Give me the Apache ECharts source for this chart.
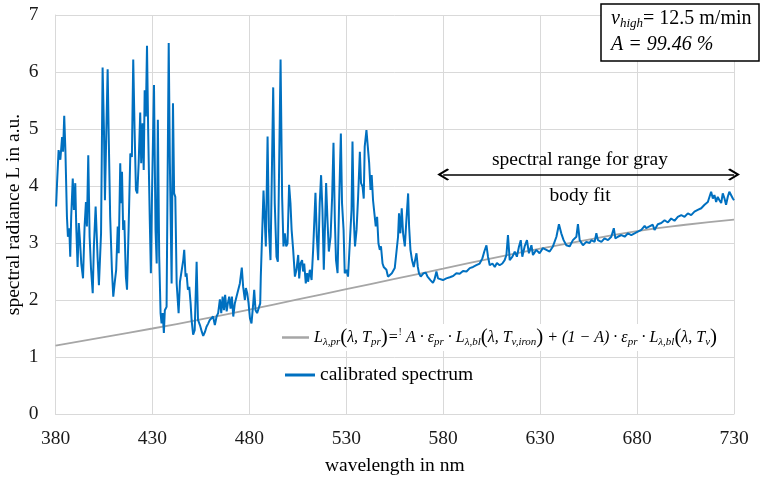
<!DOCTYPE html>
<html>
<head>
<meta charset="utf-8">
<script src="https://cdn.jsdelivr.net/npm/echarts@6/dist/echarts.min.js"></script>
<style>
  html, body { margin: 0; padding: 0; background: #fff; }
  #chart { width: 760px; height: 477px; }
</style>
</head>
<body>
<div id="chart"></div>
<script>
// Calibrated spectrum: wavelength (nm) and spectral radiance (a.u.)
const wavelength = [
  380.3, 380.8, 381.6, 382.5, 383.4, 383.9, 384.5, 385.1, 385.9, 386.4, 387.1, 387.6, 388.1, 388.9, 389.5, 390.2,
  390.7, 391.4, 392.0, 392.6, 393.3, 394.2, 395.0, 395.7, 396.2, 396.9, 397.6, 398.3, 399.2, 399.8, 400.7, 401.7,
  402.4, 403.5, 404.3, 405.0, 405.5, 406.2, 406.9, 407.4, 408.2, 409.1, 409.8, 410.5, 411.3, 412.1, 412.6, 413.4,
  413.8, 414.3, 414.9, 415.5, 416.3, 416.9, 417.7, 418.6, 419.4, 420.1, 420.8, 421.5, 422.2, 422.9, 423.7, 424.2,
  424.9, 425.5, 426.0, 426.6, 427.2, 427.8, 428.6, 429.2, 429.8, 430.8, 431.6, 432.2, 432.8, 433.5, 434.2, 434.7,
  435.3, 435.9, 436.4, 437.3, 438.4, 439.0, 439.9, 440.6, 441.2, 441.8, 442.5, 443.5, 444.2, 445.2, 445.9, 446.4,
  447.1, 447.6, 448.3, 449.0, 449.7, 450.2, 451.0, 451.8, 452.8, 453.5, 454.5, 455.5, 456.2, 457.1, 457.9, 458.8,
  459.6, 460.5, 461.3, 462.2, 463.1, 463.9, 464.8, 465.5, 466.2, 466.9, 467.5, 468.3, 468.9, 469.6, 470.3, 471.0,
  471.7, 472.5, 473.4, 474.2, 475.1, 476.1, 476.8, 477.7, 478.2, 478.9, 479.6, 480.3, 481.1, 482.0, 482.5, 483.2,
  484.0, 484.9, 485.6, 485.9, 486.6, 487.3, 488.0, 488.5, 489.4, 490.1, 490.9, 492.3, 493.1, 494.0, 494.7, 496.1,
  496.9, 497.6, 498.3, 499.0, 499.7, 500.5, 501.2, 501.8, 502.6, 503.5, 504.3, 505.2, 505.7, 506.4, 507.2, 507.7,
  508.3, 509.1, 509.8, 510.3, 511.2, 512.1, 512.9, 514.1, 514.8, 515.5, 516.3, 517.0, 517.7, 518.4, 519.1, 519.6,
  520.3, 521.0, 521.9, 522.7, 523.4, 524.1, 524.7, 525.5, 526.3, 527.2, 527.8, 528.6, 529.2, 530.1, 530.9, 531.8,
  532.7, 533.2, 533.9, 534.5, 535.3, 536.1, 537.0, 537.6, 538.4, 539.0, 539.5, 540.4, 541.1, 541.8, 542.5, 543.1,
  543.8, 544.5, 545.2, 545.9, 546.6, 547.3, 547.9, 548.7, 549.3, 550.0, 550.7, 551.5, 552.4, 553.5, 554.1, 555.0,
  555.9, 556.7, 557.2, 557.9, 558.6, 559.3, 560.2, 561.0, 561.9, 562.4, 563.1, 563.9, 564.8, 565.5, 566.2, 566.9,
  567.5, 568.4, 569.3, 569.9, 571.0, 571.9, 572.7, 573.4, 574.7, 575.5, 576.5, 577.3, 578.2, 579.9, 581.6, 583.4,
  585.1, 586.8, 588.5, 590.2, 592.0, 593.7, 595.4, 597.1, 598.8, 600.2, 601.2, 602.3, 603.1, 604.0, 605.4, 606.6,
  607.7, 609.1, 610.5, 611.7, 612.6, 613.4, 614.3, 615.7, 616.9, 618.0, 619.1, 620.0, 620.8, 622.0, 623.2, 624.2,
  625.5, 626.3, 628.0, 629.7, 631.4, 633.2, 634.9, 636.6, 638.4, 639.7, 640.9, 642.1, 643.5, 645.2, 646.9, 648.7,
  649.5, 650.4, 652.1, 653.8, 655.5, 656.4, 658.1, 659.0, 659.8, 661.6, 663.2, 665.0, 666.7, 668.0, 668.8, 670.1,
  671.9, 673.6, 675.3, 677.0, 678.7, 680.4, 682.2, 683.9, 684.7, 686.4, 688.1, 689.0, 690.7, 692.5, 694.2, 695.9,
  697.6, 699.3, 701.0, 702.8, 704.5, 706.2, 707.9, 709.6, 711.3, 713.1, 714.8, 716.5, 717.4, 718.2, 719.1, 719.9,
  720.8, 721.6, 722.5, 723.4, 724.2, 725.1, 725.9, 726.8, 727.6, 728.5, 729.4, 730.0
];
const radiance = [
  3.64, 4.05, 4.63, 4.46, 4.86, 4.60, 5.23, 4.63, 3.46, 3.11, 3.26, 2.76, 3.46, 4.13, 3.58, 4.05,
  3.29, 2.58, 3.35, 3.05, 2.64, 2.38, 3.29, 3.72, 3.29, 4.54, 3.11, 2.56, 2.12, 2.94, 3.64, 2.76,
  2.26, 3.17, 6.08, 4.98, 3.75, 4.92, 6.05, 4.98, 3.46, 2.53, 2.06, 2.29, 2.53, 3.29, 2.82, 4.40,
  3.70, 4.25, 3.23, 3.40, 2.41, 2.18, 3.23, 4.57, 4.51, 6.22, 4.98, 3.93, 3.87, 4.40, 5.29, 4.40,
  5.10, 4.28, 5.68, 5.22, 6.46, 4.98, 3.46, 2.47, 3.90, 5.77, 3.23, 2.64, 5.16, 2.76, 1.77, 1.59,
  1.77, 1.42, 1.82, 1.88, 6.51, 4.40, 2.29, 5.45, 3.87, 3.81, 2.29, 1.77, 2.32, 2.35, 2.70, 2.88,
  2.41, 2.47, 2.18, 2.23, 1.94, 1.65, 1.39, 1.47, 2.67, 1.65, 1.56, 1.44, 1.37, 1.44, 1.53, 1.59,
  1.65, 1.62, 1.71, 1.56, 1.71, 1.77, 2.01, 1.77, 2.06, 1.82, 2.09, 1.80, 1.94, 2.06, 1.85, 2.06,
  1.71, 1.94, 2.06, 2.06, 2.29, 2.57, 2.23, 2.00, 2.21, 2.12, 1.94, 1.68, 1.59, 1.94, 2.18, 1.82,
  1.77, 1.77, 1.94, 2.41, 2.44, 3.92, 3.35, 2.94, 4.87, 3.23, 2.70, 5.73, 3.70, 2.76, 2.67, 6.22,
  3.81, 2.94, 3.17, 2.94, 2.99, 4.02, 3.70, 3.23, 2.88, 2.41, 2.53, 2.79, 2.38, 2.64, 2.70, 2.50,
  2.64, 2.29, 2.47, 2.32, 2.53, 2.35, 2.88, 3.88, 3.11, 2.70, 3.70, 4.19, 3.58, 2.53, 3.40, 4.05,
  3.40, 2.85, 3.11, 3.81, 4.76, 3.40, 2.70, 2.47, 3.70, 4.92, 3.70, 3.23, 2.47, 2.53, 2.41, 2.99,
  3.58, 4.78, 3.40, 2.94, 3.23, 3.81, 4.60, 4.05, 3.99, 3.78, 4.69, 4.98, 4.69, 4.40, 3.93, 4.19,
  3.75, 3.52, 3.29, 3.46, 2.99, 2.88, 2.94, 2.64, 2.58, 2.61, 2.53, 2.41, 2.38, 2.47, 2.50, 2.56,
  2.58, 3.11, 3.52, 3.17, 3.61, 3.17, 2.94, 3.40, 3.87, 3.29, 2.88, 2.70, 2.58, 2.70, 2.82, 2.58,
  2.47, 2.41, 2.44, 2.47, 2.48, 2.41, 2.38, 2.35, 2.30, 2.36, 2.50, 2.38, 2.35, 2.35, 2.38, 2.40,
  2.42, 2.47, 2.46, 2.51, 2.50, 2.56, 2.58, 2.61, 2.64, 2.73, 2.85, 2.96, 2.76, 2.61, 2.64, 2.58,
  2.65, 2.61, 2.64, 2.70, 2.79, 3.14, 2.70, 2.76, 2.85, 2.76, 2.94, 3.05, 2.76, 2.94, 3.05, 2.82,
  2.96, 2.79, 2.88, 2.82, 2.91, 2.88, 2.85, 2.94, 3.11, 3.33, 3.17, 3.05, 2.96, 2.94, 3.05, 3.11,
  3.33, 3.05, 2.96, 3.02, 3.00, 3.05, 3.02, 3.17, 3.05, 3.02, 3.08, 3.05, 3.11, 3.26, 3.08, 3.11,
  3.14, 3.11, 3.17, 3.14, 3.17, 3.20, 3.23, 3.30, 3.26, 3.29, 3.32, 3.23, 3.33, 3.35, 3.40, 3.36,
  3.43, 3.39, 3.46, 3.49, 3.46, 3.52, 3.49, 3.55, 3.58, 3.61, 3.67, 3.72, 3.75, 3.90, 3.78, 3.84,
  3.72, 3.81, 3.75, 3.70, 3.87, 3.78, 3.67, 3.81, 3.90, 3.88, 3.78, 3.75
];

// Gray body fit curve
const fitWavelength = [380, 405, 430, 455, 480, 505, 530, 555, 580, 605, 630, 655, 680, 705, 730];
const fitRadiance   = [1.20, 1.35, 1.50, 1.66, 1.83, 2.01, 2.19, 2.37, 2.55, 2.73, 2.90, 3.06, 3.21, 3.32, 3.41];

// Spectral range used for the gray body fit
const fitRange = [580, 730];
const fitRangeLevel = 4.2;

const SERIF = '"Liberation Serif", "Times New Roman", serif';
const FIT_NAME = 'gray body fit';
const SPEC_NAME = 'calibrated spectrum';

const chart = echarts.init(document.getElementById('chart'), null, { renderer: 'canvas' });

const zip = (xs, ys) => xs.map((x, i) => [x, ys[i]]);

// Open chevron head for the double arrow
const chevron = 'path://M0,10 L10,0 L20,10 L18,12 L10,4 L2,12 Z';

const mathItalic = { fontFamily: SERIF, fontStyle: 'italic', fontSize: 16, color: '#000' };
const formula =
  '{m|L}{s|λ,pr}{p|(}{m|λ, T}{s|pr}{p|)}{m|=}{sup|!}{m| A · ε}{s|pr}{m| · L}{s|λ,bl}{p|(}{m|λ, T}{s|v,iron}{p|)}' +
  '{m| + (1 − A) · ε}{s|pr}{m| · L}{s|λ,bl}{p|(}{m|λ, T}{s|v}{p|)}';

const option = {
  animation: false,
  backgroundColor: '#fff',
  grid: { left: 55.5, right: 26, top: 15, bottom: 63, containLabel: false, outerBoundsMode: 'none' },
  xAxis: {
    type: 'value',
    min: 380, max: 730, interval: 50,
    name: 'wavelength in nm',
    nameLocation: 'middle',
    nameGap: 42,
    nameTextStyle: { fontFamily: SERIF, fontSize: 19.5, color: '#000' },
    axisLine: { show: true, lineStyle: { color: '#d9d9d9', width: 1 } },
    axisTick: { show: false },
    axisLabel: { fontFamily: SERIF, fontSize: 19.5, color: '#1a1a1a', margin: 15 },
    splitLine: { show: true, lineStyle: { color: '#d9d9d9', width: 1 } }
  },
  yAxis: {
    type: 'value',
    min: 0, max: 7, interval: 1,
    name: 'spectral radiance L in a.u.',
    nameLocation: 'middle',
    nameGap: 32,
    nameMoveOverlap: false,
    nameTextStyle: { fontFamily: SERIF, fontSize: 19.5, color: '#000' },
    axisLine: { show: true, lineStyle: { color: '#d9d9d9', width: 1 } },
    axisTick: { show: false },
    axisLabel: { fontFamily: SERIF, fontSize: 19.5, color: '#1a1a1a', margin: 17 },
    splitLine: { show: true, lineStyle: { color: '#d9d9d9', width: 1 } }
  },
  legend: [
    {
      data: [FIT_NAME],
      left: 278, top: 324,
      icon: 'rect', itemWidth: 27, itemHeight: 2.5, itemGap: 6,
      backgroundColor: '#fff',
      padding: [3, 8, 3, 4],
      formatter: () => formula,
      textStyle: {
        fontFamily: SERIF, color: '#000',
        rich: {
          m: Object.assign({}, mathItalic),
          s: Object.assign({}, mathItalic, { fontSize: 11, padding: [9, 0, 0, 0] }),
          sup: { fontFamily: SERIF, fontSize: 10, color: '#000', padding: [0, 0, 10, 0] },
          p: { fontFamily: SERIF, fontSize: 21, color: '#000' }
        }
      }
    },
    {
      data: [SPEC_NAME],
      left: 280, top: 360,
      icon: 'rect', itemWidth: 30, itemHeight: 3, itemGap: 8,
      textStyle: { fontFamily: SERIF, fontSize: 19.5, color: '#000' }
    }
  ],
  series: [
    {
      name: FIT_NAME,
      type: 'line',
      data: zip(fitWavelength, fitRadiance),
      smooth: true,
      symbol: 'none',
      color: '#a6a6a6',
      lineStyle: { color: '#a6a6a6', width: 1.8 },
      z: 2,
      markLine: {
        silent: true,
        symbol: [chevron, chevron],
        symbolSize: [12, 12],
        label: { show: false },
        lineStyle: { color: '#000', width: 1.5, type: 'solid' },
        data: [[
          { coord: [fitRange[0], fitRangeLevel] },
          { coord: [fitRange[1], fitRangeLevel] }
        ]]
      }
    },
    {
      name: SPEC_NAME,
      type: 'line',
      data: zip(wavelength, radiance),
      symbol: 'none',
      color: '#0070c0',
      lineStyle: { color: '#0070c0', width: 2 },
      z: 3
    }
  ],
  graphic: [
    {
      type: 'text',
      x: 580, y: 160,
      style: {
        text: 'spectral range for gray', fontFamily: SERIF, fontSize: 19.5, fill: '#000',
        align: 'center', verticalAlign: 'middle'
      },
      z: 10
    },
    {
      type: 'text',
      x: 580, y: 196,
      style: {
        text: 'body fit', fontFamily: SERIF, fontSize: 19.5, fill: '#000',
        align: 'center', verticalAlign: 'middle'
      },
      z: 10
    },
    {
      type: 'rect',
      shape: { x: 601, y: 4, width: 158, height: 57 },
      style: { fill: '#fff', stroke: '#000', lineWidth: 1.5 },
      z: 10
    },
    {
      type: 'text',
      x: 611, y: 8,
      style: {
        text: '{i|v}{sub|high}{r|= 12.5 m/min}',
        rich: {
          i: { fontFamily: SERIF, fontStyle: 'italic', fontSize: 20, fill: '#000' },
          sub: { fontFamily: SERIF, fontStyle: 'italic', fontSize: 13, fill: '#000', padding: [9, 0, 0, 0] },
          r: { fontFamily: SERIF, fontSize: 20, fill: '#000' }
        }
      },
      z: 11
    },
    {
      type: 'text',
      x: 611, y: 35,
      style: { text: 'A = 99.46 %', fontFamily: SERIF, fontStyle: 'italic', fontSize: 20, fill: '#000' },
      z: 11
    }
  ]
};

chart.setOption(option);
</script>
</body>
</html>
